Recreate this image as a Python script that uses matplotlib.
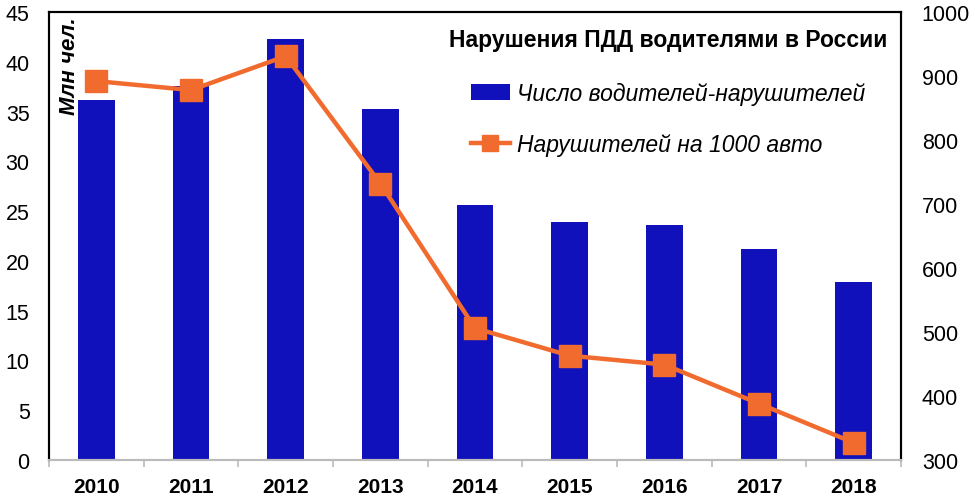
import matplotlib.pyplot as plt
import numpy as np

plt.rcParams['font.family'] = ['Liberation Sans', 'DejaVu Sans']

years = ["2010", "2011", "2012", "2013", "2014", "2015", "2016", "2017", "2018"]
drivers_mln = [36.2, 37.6, 42.3, 35.3, 25.6, 23.9, 23.6, 21.2, 17.9]
per_1000 = [892, 878, 931, 732, 506, 463, 449, 388, 327]

x = np.arange(len(years))

fig = plt.figure(figsize=(9.75, 5.02), dpi=100)
ax = fig.add_axes([0.0503, 0.0817, 0.8738, 0.8924])
ax2 = ax.twinx()

bars = ax.bar(x, drivers_mln, width=0.39, color="#1111BB", label="Число водителей-нарушителей", zorder=2)
line, = ax2.plot(x, per_1000, color="#F26B2E", lw=3.2, marker="s", ms=16,
                 label="Нарушителей на 1000 авто", zorder=3)

ax.set_xlim(-0.5, len(years) - 0.5)
ax.set_ylim(0, 45)
ax.set_yticks(range(0, 46, 5))
ax2.set_ylim(300, 1000)
ax2.set_yticks(range(300, 1001, 100))

ax.set_xticks(x)
ax.set_xticklabels(years, fontsize=15, fontweight="bold")
ax.set_xticks(np.arange(-0.5, len(years), 1), minor=True)
ax.tick_params(axis="x", which="major", length=0, pad=12)
ax.tick_params(axis="x", which="minor", length=5, color="#BBBBBB", width=1.2)
ax.tick_params(axis="y", length=0, labelsize=15.5, pad=14)
ax2.tick_params(axis="y", length=0, labelsize=15.5, pad=15)

for a in (ax, ax2):
    for s in ("left", "right", "top"):
        a.spines[s].set_linewidth(1.5)
        a.spines[s].set_color("black")
    a.spines["bottom"].set_color("#BBBBBB")
    a.spines["bottom"].set_linewidth(1.5)

# подпись оси внутри поля графика
ax.text(0.012, 0.99, "Млн чел.", transform=ax.transAxes, rotation=90,
        fontsize=16, fontweight="bold", fontstyle="italic", ha="left", va="top")

ax2.set_zorder(ax.get_zorder() + 1)
ax2.patch.set_visible(False)

leg = ax2.legend([bars, line], [bars.get_label(), line.get_label()],
                 loc="upper right", bbox_to_anchor=(887 / 975, 1 - 29 / 502),
                 bbox_transform=fig.transFigure, frameon=False,
                 borderpad=0, borderaxespad=0,
                 title="Нарушения ПДД водителями в России",
                 prop={"size": 16.5, "style": "italic"},
                 handlelength=1.7, handletextpad=0.3, labelspacing=1.25)
leg.get_title().set_fontweight("bold")
leg.get_title().set_fontsize(16.5)
leg._legend_box.sep = 22
leg.legend_handles[1].set_markersize(11)

fig.savefig("out.png", dpi=100)
